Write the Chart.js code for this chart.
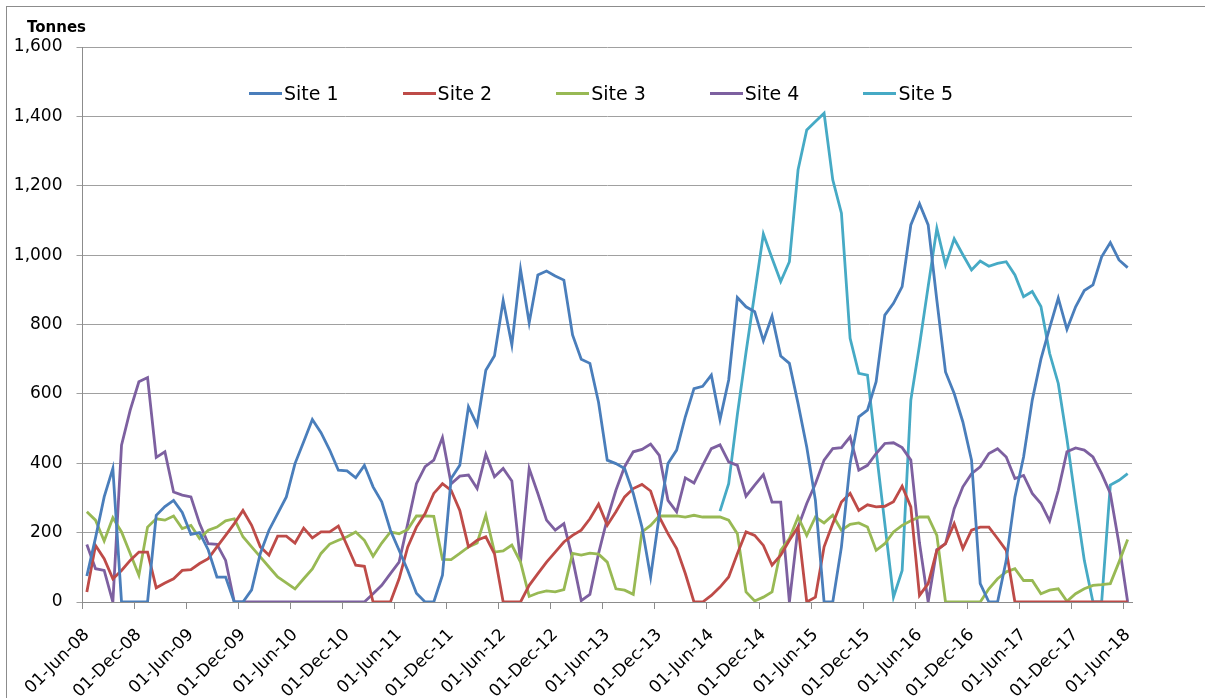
<!DOCTYPE html>
<html>
<head>
<meta charset="utf-8">
<title>Tonnes by site</title>
<script src="https://cdn.jsdelivr.net/npm/chart.js@4.4.0/dist/chart.umd.min.js"></script>
<style>
  html, body { margin: 0; padding: 0; background: #fff; overflow: hidden; }
  #wrap { position: relative; width: 1205px; height: 698px; }
  #frame { position: absolute; left: 6px; top: 6px; width: 1400px; height: 900px;
           border: 1px solid #8c8c8c; box-sizing: border-box; pointer-events: none; }
  #unit { position: absolute; left: 27px; top: 18px; line-height: 15px;
          font: bold 15px "DejaVu Sans"; color: #000; }
  .item { position: absolute; top: 84px; height: 19px; display: flex; align-items: center;
          font: 19px "DejaVu Sans"; line-height: 19px; color: #000; white-space: nowrap; }
  .swatch { width: 33px; height: 3px; margin-right: 2px; }
</style>
</head>
<body>
<div id="wrap">
  <canvas id="chart"></canvas>
  <div id="frame"></div>
  <div id="unit">Tonnes</div>
  <div id="legend"></div>
</div>
<script>
// month labels shown on the axis (every 6th month)
const tickLabels = ['01-Jun-08', '01-Dec-08', '01-Jun-09', '01-Dec-09', '01-Jun-10', '01-Dec-10',
    '01-Jun-11', '01-Dec-11', '01-Jun-12', '01-Dec-12', '01-Jun-13', '01-Dec-13',
    '01-Jun-14', '01-Dec-14', '01-Jun-15', '01-Dec-15', '01-Jun-16', '01-Dec-16',
    '01-Jun-17', '01-Dec-17', '01-Jun-18'];

const monthNames = ['Jan', 'Feb', 'Mar', 'Apr', 'May', 'Jun', 'Jul', 'Aug', 'Sep', 'Oct', 'Nov', 'Dec'];

// monthly categories Jun-08 .. Jun-18
const months = [];
for (let m = 5; m <= 5 + 120; m++) {
    const yy = 8 + Math.floor(m / 12);
    months.push('01-' + monthNames[m % 12] + '-' + String(yy).padStart(2, '0'));
}

const site1 = [
    75, 185, 303, 385, 0, 0, 0, 0, 250, 275, 293, 258,
    195, 200, 150, 72, 72, 0, 0, 35, 140, 207, 255, 303,
    399, 462, 526, 488, 438, 380, 378, 358, 394, 332, 289, 207,
    149, 91, 25, 0, 0, 77, 356, 394, 563, 510, 668, 710,
    869, 741, 959, 805, 943, 954, 940, 928, 770, 700, 688, 575,
    409, 399, 385, 313, 216, 72, 250, 399, 438, 534, 615, 622,
    654, 526, 640, 878, 851, 837, 753, 824, 709, 688, 572, 447,
    293, 0, 0, 159, 399, 534, 553, 635, 827, 861, 909, 1087,
    1148, 1087, 870, 663, 601, 519, 409, 53, 0, 0, 120, 303,
    418, 582, 700, 790, 876, 786, 851, 898, 914, 995, 1036, 986,
    964
];

const site2 = [
    29, 163, 125, 67, 91, 120, 144, 144, 41, 55, 67, 91,
    93, 111, 125, 159, 192, 226, 264, 221, 159, 135, 190, 190,
    170, 213, 185, 202, 202, 219, 163, 106, 103, 0, 0, 0,
    67, 159, 216, 255, 313, 341, 322, 264, 159, 178, 188, 139,
    0, 0, 0, 48, 82, 115, 144, 173, 192, 207, 240, 282,
    221, 260, 303, 327, 339, 320, 245, 197, 154, 82, 0, 0,
    19, 43, 72, 139, 202, 192, 163, 106, 135, 178, 216, 0,
    14, 159, 226, 288, 313, 264, 280, 274, 276, 289, 334, 274,
    19, 53, 149, 168, 226, 154, 207, 216, 216, 183, 149, 0,
    0, 0, 0, 0, 0, 0, 0, 0, 0, 0, 0, 0,
    0
];

const site3 = [
    260, 236, 176, 243, 202, 140, 77, 216, 240, 236, 248, 212,
    221, 183, 207, 216, 234, 240, 188, 159, 130, 101, 72, 55,
    38, 67, 95, 140, 167, 178, 188, 202, 178, 132, 170, 202,
    197, 209, 248, 248, 247, 123, 122, 140, 159, 170, 250, 144,
    147, 164, 115, 16, 26, 32, 29, 36, 140, 135, 141, 138,
    115, 38, 34, 22, 202, 221, 248, 248, 248, 245, 250, 245,
    245, 245, 236, 197, 29, 3, 14, 29, 149, 183, 245, 192,
    245, 228, 250, 207, 224, 228, 216, 149, 168, 202, 221, 234,
    245, 245, 192, 0, 0, 0, 0, 0, 38, 67, 87, 96,
    62, 62, 24, 34, 38, 2, 24, 38, 48, 50, 53, 115,
    180
];

const site4 = [
    166, 96, 91, 0, 452, 553, 635, 647, 417, 433, 317, 308,
    303, 226, 168, 166, 120, 0, 0, 0, 0, 0, 0, 0,
    0, 0, 0, 0, 0, 0, 0, 0, 0, 24, 48, 82,
    115, 226, 341, 390, 409, 474, 341, 363, 366, 327, 426, 361,
    385, 349, 115, 385, 313, 236, 207, 226, 125, 4, 22, 140,
    240, 322, 390, 433, 440, 455, 423, 293, 260, 358, 343, 394,
    442, 453, 404, 394, 305, 337, 367, 288, 288, 0, 216, 284,
    341, 409, 442, 445, 476, 380, 394, 428, 457, 459, 445, 409,
    170, 0, 151, 168, 269, 332, 370, 390, 428, 442, 418, 356,
    365, 313, 284, 234, 322, 433, 444, 438, 418, 370, 313, 168,
    0
];

// Site 5 has no data before Jul-14
const site5 = [
    null, null, null, null, null, null, null, null, null, null, null, null,
    null, null, null, null, null, null, null, null, null, null, null, null,
    null, null, null, null, null, null, null, null, null, null, null, null,
    null, null, null, null, null, null, null, null, null, null, null, null,
    null, null, null, null, null, null, null, null, null, null, null, null,
    null, null, null, null, null, null, null, null, null, null, null, null,
    null, 262, 341, 540, 720, 890, 1061, 991, 924, 981, 1246, 1361,
    1385, 1409, 1217, 1121, 760, 659, 654, 437, 226, 14, 91, 582,
    740, 910, 1077, 972, 1047, 1001, 957, 983, 968, 976, 981, 943,
    880, 895, 852, 717, 630, 470, 290, 120, 0, 0, 337, 351,
    370
];

const seriesNames = ['Site 1', 'Site 2', 'Site 3', 'Site 4', 'Site 5'];
const seriesColors = ['#4a7ebb', '#be4b48', '#98b954', '#7d60a0', '#46aac5'];
const yTicks = [0, 200, 400, 600, 800, 1000, 1200, 1400, 1600];

const axisGrey = '#8c8c8c';
const font = 'DejaVu Sans';

const canvas = document.getElementById('chart');
canvas.width = 1205;
canvas.height = 698;

const allSeries = [site1, site2, site3, site4, site5];

new Chart(canvas, {
    type: 'line',
    data: {
        labels: months,
        datasets: allSeries.map((values, k) => ({
            label: seriesNames[k],
            data: values,
            borderColor: seriesColors[k],
            backgroundColor: seriesColors[k],
            borderWidth: 2.8,
            pointRadius: 0,
            tension: 0,
            spanGaps: false
        }))
    },
    options: {
        responsive: false,
        animation: false,
        layout: {
            padding: { top: 47, right: 73, left: 0, bottom: 0 }
        },
        plugins: {
            legend: { display: false },
            tooltip: { enabled: false }
        },
        scales: {
            x: {
                offset: true,
                afterFit: (scale) => { scale.height = 96; },
                grid: {
                    offset: true,
                    drawOnChartArea: false,
                    tickLength: 7,
                    color: (ctx) => (ctx.index % 6 === 0 ? axisGrey : 'rgba(0,0,0,0)')
                },
                border: { display: true, color: axisGrey, width: 1 },
                ticks: {
                    autoSkip: false,
                    maxRotation: 45,
                    minRotation: 45,
                    padding: 16,
                    color: '#000',
                    font: { family: font, size: 17 },
                    callback: (value, i) => (i % 6 === 0 ? tickLabels[i / 6] : '')
                }
            },
            y: {
                min: 0,
                max: 1600,
                afterFit: (scale) => { scale.width = 82.5; },
                afterBuildTicks: (scale) => {
                    scale.ticks = yTicks.map((v) => ({ value: v }));
                },
                grid: { color: '#a0a0a0', tickLength: 6, lineWidth: 1 },
                border: { display: true, color: axisGrey, width: 1 },
                ticks: {
                    padding: 14,
                    color: '#000',
                    font: { family: font, size: 17 },
                    callback: (v) => v.toLocaleString('en-US')
                }
            }
        }
    }
});

// legend sits inside the plot, as in the original
const legend = document.getElementById('legend');
seriesNames.forEach((name, k) => {
    const item = document.createElement('div');
    item.className = 'item';
    item.style.left = (249 + 153.6 * k) + 'px';
    const sw = document.createElement('span');
    sw.className = 'swatch';
    sw.style.background = seriesColors[k];
    item.appendChild(sw);
    item.appendChild(document.createTextNode(name));
    legend.appendChild(item);
});
</script>
</body>
</html>
